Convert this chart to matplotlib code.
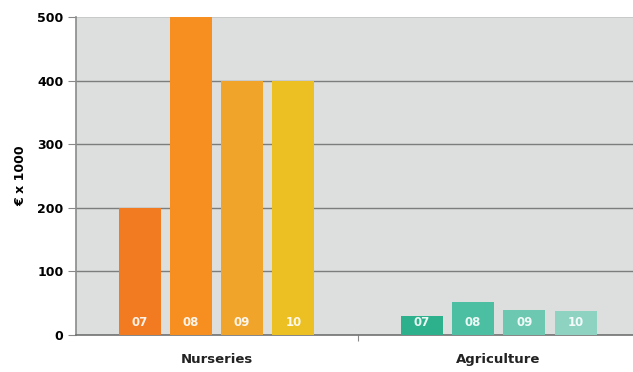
import matplotlib.pyplot as plt

years = ["07", "08", "09", "10"]
groups = ["Nurseries", "Agriculture"]
nurseries = [200, 500, 400, 400]
agriculture = [30, 52, 39, 37]

nursery_colors = ["#f27a21", "#f68f20", "#f0a42a", "#ecc022"]
agri_colors = ["#2db08c", "#4cbfa2", "#6cc8b0", "#8ed3c2"]

fig = plt.figure(figsize=(6.33, 3.72), dpi=100)
ax = fig.add_axes([0.120, 0.0995, 0.880, 0.8548])
ax.set_facecolor("#dcdfde")

# bar positions: two groups of four, gap between them
xn = [0, 1, 2, 3]
xa = [5.5, 6.5, 7.5, 8.5]
w = 0.82

ax.bar(xn, nurseries, width=w, color=nursery_colors, zorder=3)
ax.bar(xa, agriculture, width=w, color=agri_colors, zorder=3)

for xs in (xn, xa):
    for x, yr in zip(xs, years):
        ax.text(x, 19, yr, color="white", fontsize=8.5, fontweight="bold",
                ha="center", va="center", zorder=4, alpha=0.9)

ax.set_xlim(-1.24, 9.62)
ax.set_ylim(0, 500)
ax.set_yticks([0, 100, 200, 300, 400, 500])
ax.set_yticklabels(["0", "100", "200", "300", "400", "500"], fontweight="bold", fontsize=9)
for y in [100, 200, 300, 400]:
    ax.axhline(y, color="#7c7e7d", lw=1.0, zorder=1)
ax.axhline(500, color="#c4c6c5", lw=1.2, zorder=1)

ax.set_xticks([4.25])
ax.set_xticklabels([""])
ax.tick_params(axis="x", length=4, color="#888888", direction="out")
ax.tick_params(axis="y", length=6, color="#888888", pad=3)

for s in ["top", "right"]:
    ax.spines[s].set_visible(False)
ax.spines["left"].set_color("#8a8c8b")
ax.spines["left"].set_linewidth(1.2)
ax.spines["bottom"].set_color("#6f7170")
ax.spines["bottom"].set_linewidth(1.2)

ax.text(1.5, -39, groups[0], ha="center", va="center", fontsize=9.5, fontweight="bold", color="#222222")
ax.text(7.0, -39, groups[1], ha="center", va="center", fontsize=9.5, fontweight="bold", color="#222222")

ax.set_ylabel("€ x 1000", fontweight="bold", fontsize=9, labelpad=7)

fig.savefig("out.png", dpi=100)
